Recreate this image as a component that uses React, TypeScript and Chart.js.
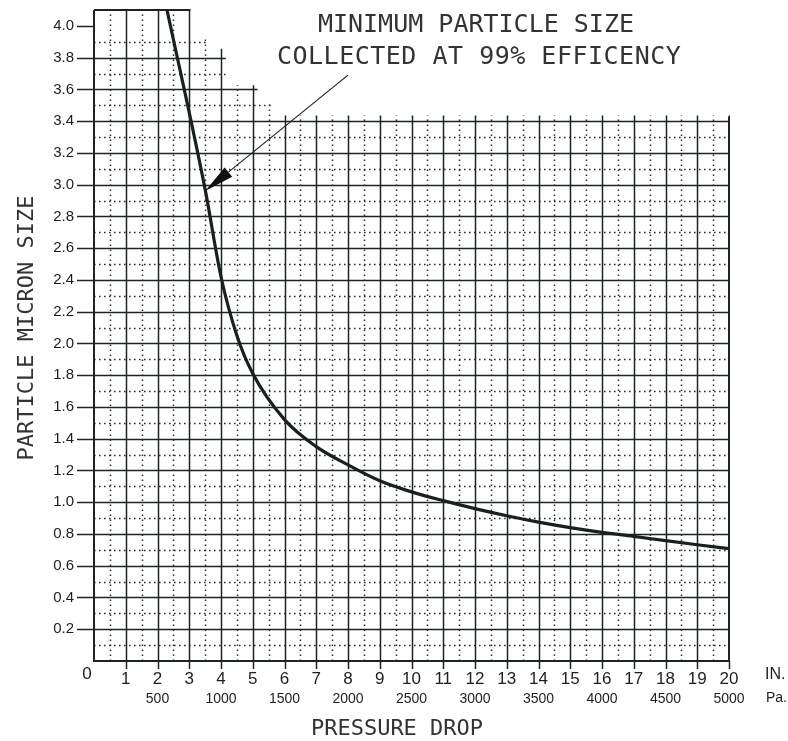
import React, { useEffect, useRef } from "react";
import { Chart, registerables } from "chart.js";

Chart.register(...registerables);

// ---- data ----
const pressureIn = [2.3, 3.5, 4.0, 4.5, 5, 6, 7, 8, 9, 10, 11, 12, 13, 14, 15, 16, 17, 18, 19, 20];
const particleMicron = [4.1, 2.97, 2.42, 2.05, 1.81, 1.52, 1.35, 1.235, 1.135, 1.065, 1.01, 0.96, 0.915, 0.875, 0.84, 0.81, 0.785, 0.758, 0.732, 0.708];

const yTicks = [0.2, 0.4, 0.6, 0.8, 1.0, 1.2, 1.4, 1.6, 1.8, 2.0, 2.2, 2.4, 2.6, 2.8, 3.0, 3.2, 3.4, 3.6, 3.8, 4.0];
const inchTicks = [1, 2, 3, 4, 5, 6, 7, 8, 9, 10, 11, 12, 13, 14, 15, 16, 17, 18, 19, 20];
const paTicks = [500, 1000, 1500, 2000, 2500, 3000, 3500, 4000, 4500, 5000];
const PA_PER_INCH = 250;

const annotationLines = ["MINIMUM PARTICLE SIZE", "COLLECTED AT 99% EFFICENCY"];
const yTitle = "PARTICLE MICRON SIZE";
const xTitle = "PRESSURE DROP";

// staircase outline of the (cut) graph paper, in data units
const paperOutline: [number, number][] = [
  [0, 0], [0, 4.1], [3.04, 4.1], [3.04, 3.92], [3.5, 3.92], [3.5, 3.85],
  [4.12, 3.85], [4.12, 3.62], [5.12, 3.62], [5.12, 3.52], [5.55, 3.52],
  [5.55, 3.43], [20, 3.43], [20, 0],
];

const W = 788;
const H = 741;
const INK = "#1c2520";

const paperPlugin = {
  id: "paper",
  beforeDraw(chart: any) {
    const ctx = chart.ctx;
    ctx.save();
    ctx.fillStyle = "#ffffff";
    ctx.fillRect(0, 0, chart.width, chart.height);
    ctx.restore();
  },
  beforeDatasetsDraw(chart: any) {
    const { ctx } = chart;
    const xs = chart.scales.x;
    const ys = chart.scales.y;
    const px = (v: number) => xs.getPixelForValue(v);
    const py = (v: number) => ys.getPixelForValue(v);

    ctx.save();
    ctx.beginPath();
    paperOutline.forEach(([a, b], i) => {
      const X = px(a) + (a === 0 ? -2 : 1);
      const Y = py(b) + (b === 0 ? 2 : -1);
      if (i === 0) ctx.moveTo(X, Y);
      else ctx.lineTo(X, Y);
    });
    ctx.closePath();
    ctx.clip();

    // minor dotted lines
    ctx.strokeStyle = "#2a2f2c";
    ctx.lineWidth = 1.5;
    ctx.setLineDash([1.6, 3.4]);
    for (let k = 0; k < 20; k++) {
      const X = Math.round(px(k + 0.5)) + 0.5;
      ctx.beginPath();
      ctx.moveTo(X, py(0));
      ctx.lineTo(X, py(4.1));
      ctx.stroke();
    }
    for (let k = 0; k < 20; k++) {
      const Y = Math.round(py(0.1 + k * 0.2)) + 0.5;
      ctx.beginPath();
      ctx.moveTo(px(0), Y);
      ctx.lineTo(px(20), Y);
      ctx.stroke();
    }

    // major lines
    ctx.setLineDash([]);
    ctx.strokeStyle = INK;
    ctx.lineWidth = 1.5;
    inchTicks.forEach((v) => {
      const X = Math.round(px(v)) + 0.5;
      ctx.beginPath();
      ctx.moveTo(X, py(0));
      ctx.lineTo(X, py(4.1));
      ctx.stroke();
    });
    yTicks.filter((v) => v < 3.95).forEach((v) => {
      const Y = Math.round(py(v)) + 0.5;
      ctx.beginPath();
      ctx.moveTo(px(0), Y);
      ctx.lineTo(px(20), Y);
      ctx.stroke();
    });
    ctx.restore();

    // borders and tick marks
    ctx.save();
    ctx.strokeStyle = INK;
    ctx.lineWidth = 2;
    ctx.beginPath();
    ctx.moveTo(px(0), py(4.1));
    ctx.lineTo(px(0), py(0));
    ctx.lineTo(px(20), py(0));
    ctx.lineTo(px(20), py(3.43));
    ctx.moveTo(px(0), py(4.1));
    ctx.lineTo(px(3.04), py(4.1));
    ctx.stroke();
    ctx.lineWidth = 1.5;
    yTicks.forEach((v) => {
      const Y = Math.round(py(v)) + 0.5;
      ctx.beginPath();
      ctx.moveTo(px(0) - 17, Y);
      ctx.lineTo(px(0), Y);
      ctx.stroke();
    });
    inchTicks.forEach((v) => {
      const X = Math.round(px(v)) + 0.5;
      ctx.beginPath();
      ctx.moveTo(X, py(0));
      ctx.lineTo(X, py(0) + 8);
      ctx.stroke();
    });

    // tick labels
    ctx.fillStyle = "#1e1e1e";
    ctx.font = '15px "Liberation Sans"';
    ctx.textAlign = "right";
    ctx.textBaseline = "middle";
    yTicks.forEach((v) => ctx.fillText(v.toFixed(1), px(0) - 20, py(v)));
    ctx.textAlign = "center";
    ctx.font = '17px "Liberation Sans"';
    ctx.fillText("0", px(0) - 7, py(0) + 13);
    inchTicks.forEach((v) => ctx.fillText(String(v), px(v), py(0) + 18));
    ctx.textAlign = "left";
    ctx.font = '16px "Liberation Sans"';
    ctx.fillText("IN.", px(20) + 36, py(0) + 14);
    ctx.font = '14px "Liberation Sans"';
    ctx.textAlign = "center";
    paTicks.forEach((v) => ctx.fillText(String(v), px(v / PA_PER_INCH), py(0) + 38));
    ctx.textAlign = "left";
    ctx.fillText("Pa.", px(20) + 37, py(0) + 37);

    // axis titles
    ctx.fillStyle = "#333";
    ctx.font = '22px "DejaVu Sans Mono"';
    ctx.textAlign = "center";
    ctx.fillText(xTitle, 397, py(0) + 68);
    ctx.save();
    ctx.translate(27, 328);
    ctx.rotate(-Math.PI / 2);
    ctx.fillText(yTitle, 0, 0);
    ctx.restore();
    ctx.restore();
  },
  afterDatasetsDraw(chart: any) {
    const { ctx } = chart;
    const xs = chart.scales.x;
    const ys = chart.scales.y;
    const px = (v: number) => xs.getPixelForValue(v);
    const py = (v: number) => ys.getPixelForValue(v);
    ctx.save();
    // arrow
    const x0 = px(8.0), y0 = py(3.69);
    const x1 = px(3.5), y1 = py(2.96);
    const ang = Math.atan2(y1 - y0, x1 - x0);
    const hl = 30, hw = 6;
    const bx = x1 - hl * Math.cos(ang), by = y1 - hl * Math.sin(ang);
    ctx.strokeStyle = "#222";
    ctx.lineWidth = 1.2;
    ctx.beginPath();
    ctx.moveTo(x0, y0);
    ctx.lineTo(bx, by);
    ctx.stroke();
    ctx.fillStyle = "#111";
    ctx.beginPath();
    ctx.moveTo(x1, y1);
    ctx.lineTo(bx + hw * Math.sin(ang), by - hw * Math.cos(ang));
    ctx.lineTo(bx - hw * Math.sin(ang), by + hw * Math.cos(ang));
    ctx.closePath();
    ctx.fill();
    // annotation text
    ctx.fillStyle = "#333";
    ctx.font = '25px "DejaVu Sans Mono"';
    ctx.textAlign = "center";
    ctx.textBaseline = "middle";
    ctx.fillText(annotationLines[0], px(12.03), py(4.0));
    try { (ctx as any).letterSpacing = "0.5px"; } catch (e) {}
    ctx.fillText(annotationLines[1], px(12.13), py(3.8));
    ctx.restore();
  },
};

export default function App() {
  const ref = useRef<HTMLCanvasElement>(null);
  useEffect(() => {
    const chart = new Chart(ref.current!, {
      type: "line",
      data: {
        datasets: [
          {
            data: pressureIn.map((x, i) => ({ x, y: particleMicron[i] })),
            borderColor: "#18211c",
            borderWidth: 3.2,
            pointRadius: 0,
            cubicInterpolationMode: "monotone",
            fill: false,
          },
        ],
      },
      options: {
        responsive: false,
        animation: false,
        layout: { padding: { left: 94, right: 59, top: 10, bottom: 80 } },
        plugins: { legend: { display: false }, tooltip: { enabled: false } },
        scales: {
          x: { type: "linear", min: 0, max: 20, display: false },
          y: { type: "linear", min: 0, max: 4.1, display: false },
        },
      },
      plugins: [paperPlugin],
    } as any);
    return () => chart.destroy();
  }, []);
  return (
    <div style={{ position: "absolute", left: 0, top: 0, width: W, height: H, background: "#fff" }}>
      <canvas ref={ref} width={W} height={H} style={{ width: W, height: H, display: "block" }} />
    </div>
  );
}
